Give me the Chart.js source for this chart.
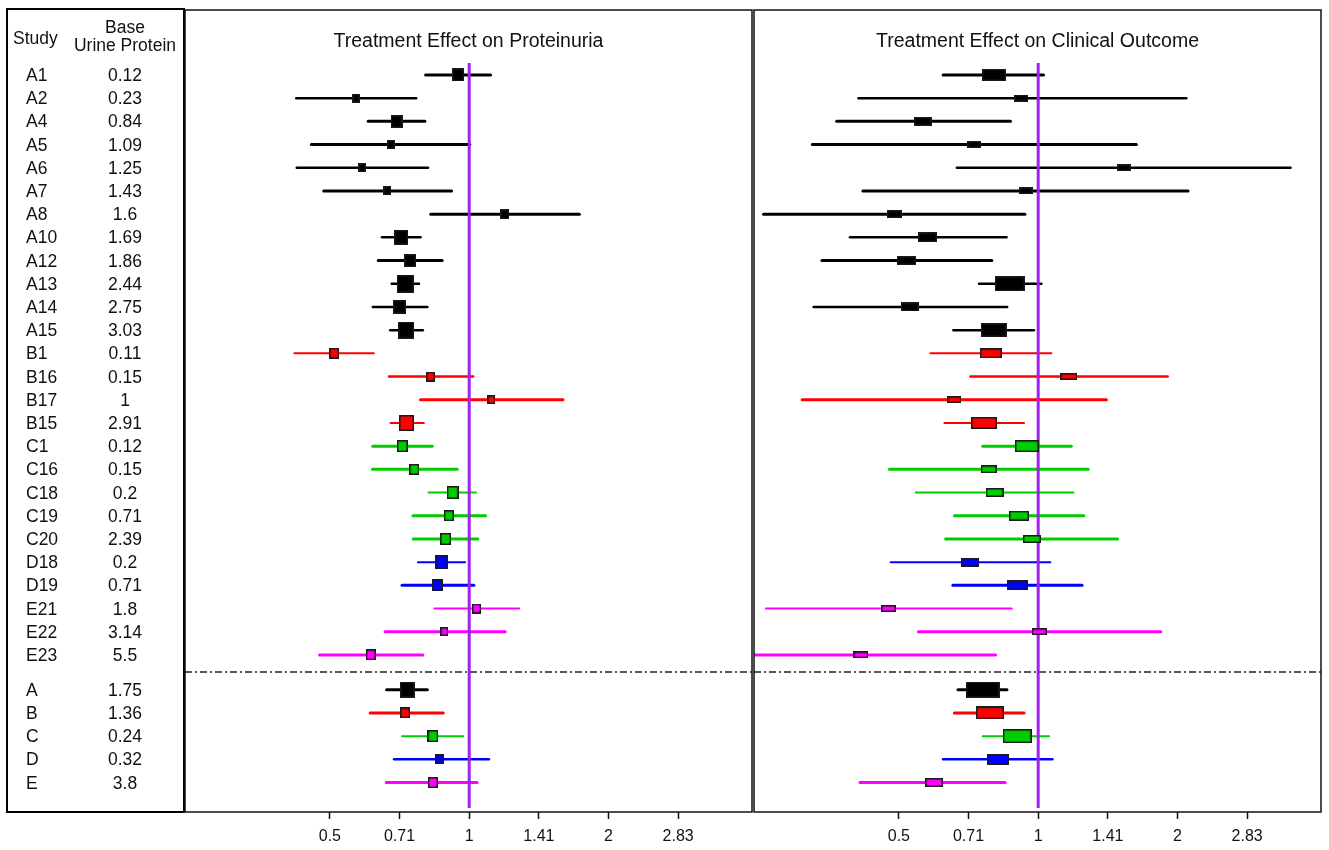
<!DOCTYPE html>
<html>
<head>
<meta charset="utf-8">
<script src="https://cdn.jsdelivr.net/npm/chart.js@4.4.1/dist/chart.umd.min.js"></script>
<style>
  body { margin: 0; background: #fff; font-family: Arial, "Liberation Sans", sans-serif; }
  #page { position: relative; width: 1329px; height: 850px; overflow: hidden; }
  .wrap { position: absolute; top: 5px; width: 577px; height: 845px; }
  #tbl { position: absolute; left: 6px; top: 8px; width: 179px; height: 805px; border: 2px solid #000; box-sizing: border-box; }
  .txt { position: absolute; font-size: 17.5px; color: #111; white-space: nowrap; line-height: 18px; transform: translateY(-50%); }
  .ttl { position: absolute; top: 29px; font-size: 19.5px; line-height: 22px; color: #111; text-align: center; width: 569px; }
</style>
</head>
<body>
<div id="page">
  <div id="tbl"></div>
  <div class="wrap" style="left:180px"><canvas id="protChart"></canvas></div>
  <div class="wrap" style="left:749px"><canvas id="clinChart"></canvas></div>
  <div class="ttl" style="left:184px">Treatment Effect on Proteinuria</div>
  <div class="ttl" style="left:753px">Treatment Effect on Clinical Outcome</div>
</div>
<script>
// Studies (rows) and baseline urine protein
const studies = ['A1', 'A2', 'A4', 'A5', 'A6', 'A7', 'A8', 'A10', 'A12', 'A13', 'A14', 'A15',
  'B1', 'B16', 'B17', 'B15', 'C1', 'C16', 'C18', 'C19', 'C20', 'D18', 'D19', 'E21', 'E22', 'E23',
  'A', 'B', 'C', 'D', 'E'];
const baseProtein = ['0.12', '0.23', '0.84', '1.09', '1.25', '1.43', '1.6', '1.69', '1.86', '2.44', '2.75', '3.03',
  '0.11', '0.15', '1', '2.91', '0.12', '0.15', '0.2', '0.71', '2.39', '0.2', '0.71', '1.8', '3.14', '5.5',
  '1.75', '1.36', '0.24', '0.32', '3.8'];

// Treatment effect on proteinuria (ratio, lower CI, estimate, upper CI)
const protLow = [0.805, 0.423, 0.605, 0.456, 0.424, 0.485, 0.826, 0.648, 0.636, 0.680, 0.619, 0.675,
  0.419, 0.671, 0.785, 0.676, 0.619, 0.618, 0.817, 0.756, 0.757, 0.775, 0.716, 0.841, 0.658, 0.475,
  0.663, 0.611, 0.716, 0.688, 0.662];
const protEst = [0.947, 0.570, 0.697, 0.677, 0.588, 0.665, 1.194, 0.713, 0.746, 0.727, 0.707, 0.730,
  0.511, 0.825, 1.117, 0.732, 0.717, 0.761, 0.921, 0.904, 0.889, 0.872, 0.853, 1.037, 0.884, 0.613,
  0.735, 0.727, 0.835, 0.863, 0.835];
const protHigh = [1.112, 0.768, 0.802, 1.003, 0.815, 0.916, 1.730, 0.785, 0.874, 0.779, 0.812, 0.794,
  0.622, 1.020, 1.595, 0.798, 0.832, 0.942, 1.034, 1.085, 1.044, 0.980, 1.023, 1.282, 1.196, 0.794,
  0.812, 0.879, 0.971, 1.103, 1.040];

// Treatment effect on clinical outcome
const clinLow = [0.623, 0.409, 0.367, 0.325, 0.667, 0.418, 0.255, 0.392, 0.341, 0.745, 0.327, 0.656,
  0.585, 0.714, 0.309, 0.627, 0.759, 0.477, 0.544, 0.659, 0.631, 0.480, 0.654, 0.258, 0.551, 0.230,
  0.671, 0.659, 0.759, 0.623, 0.412];
const clinEst = [0.802, 0.920, 0.563, 0.728, 1.532, 0.940, 0.489, 0.577, 0.520, 0.868, 0.528, 0.801,
  0.790, 1.165, 0.659, 0.764, 0.945, 0.782, 0.805, 0.909, 0.969, 0.714, 0.901, 0.475, 1.006, 0.414,
  0.758, 0.787, 0.901, 0.818, 0.596];
const clinHigh = [1.027, 2.090, 0.871, 1.630, 3.510, 2.108, 0.936, 0.854, 0.794, 1.016, 0.857, 0.979,
  1.068, 1.905, 1.404, 0.932, 1.179, 1.282, 1.192, 1.255, 1.484, 1.062, 1.244, 0.877, 1.839, 0.809,
  0.856, 0.932, 1.056, 1.073, 0.848];

// axis ticks (log2 scale)
const tickLog2 = [-1, -0.5, 0, 0.5, 1, 1.5];
const tickLabels = ['0.5', '0.71', '1', '1.41', '2', '2.83'];

// styles
const groupColors = { A: '#000000', B: '#ff0000', C: '#00cd00', D: '#0000ff', E: '#ff00ff' };
const lineW = [3, 2.5, 3, 3, 2.5, 3, 3, 2.5, 3, 2.5, 2.5, 2.5, 2, 2.5, 3, 2, 3, 3, 2, 3, 3, 2, 3, 2, 3, 3,
  3, 3, 2, 2.5, 3];
const boxProt = [12, 8, 12, 8, 8, 8, 9, 14, 12, 17, 13, 16, 10, 9, 8, 15, 11, 10, 12, 10, 11, 13, 11, 9, 8, 10,
  15, 10, 11, 9, 10];
const boxClin = [[24, 12], [14, 7], [18, 9], [14, 7], [14, 7], [14, 7], [15, 8], [19, 10], [19, 9], [30, 15],
  [18, 9], [26, 14], [22, 10], [17, 7], [14, 7], [26, 12], [24, 12], [16, 8], [18, 9], [20, 10], [18, 8],
  [18, 9], [21, 10], [15, 7], [15, 7], [15, 7], [34, 16], [28, 13], [29, 14], [22, 11], [18, 9]];

const FONT = 'Arial, "Liberation Sans", sans-serif';
const rowY = i => (i < 26 ? i + 1 : i + 1.5); // summary rows after a gap
const colorOf = i => groupColors[studies[i][0]];

function boxImg(w, h, fill) {
  const c = document.createElement('canvas');
  c.width = w; c.height = h;
  const g = c.getContext('2d');
  g.fillStyle = fill;
  g.fillRect(0, 0, w, h);
  g.strokeStyle = '#1a1a1a';
  g.lineWidth = 1.5;
  g.strokeRect(0.75, 0.75, w - 1.5, h - 1.5);
  return c;
}

// Rahmen um die Zeichenfläche
const framePlugin = {
  id: 'frame',
  afterDraw(chart) {
    const a = chart.chartArea, ctx = chart.ctx;
    ctx.save();
    ctx.strokeStyle = '#111';
    ctx.lineWidth = 1.5;
    ctx.strokeRect(a.left, a.top, a.right - a.left, a.bottom - a.top);
    ctx.restore();
  }
};

function makePanel(id, low, est, high, imgs) {
  const datasets = [];
  // boxes (on top)
  datasets.push({
    order: 0,
    data: est.map((v, i) => ({ x: Math.log2(v), y: rowY(i) })),
    pointStyle: imgs,
    pointRadius: 4,
    showLine: false
  });
  // reference line at 1
  datasets.push({
    order: 1,
    data: [{ x: 0, y: 0.48 }, { x: 0, y: 32.6 }],
    showLine: true, borderColor: '#a020f0', borderWidth: 3, pointRadius: 0, clip: 0
  });
  // confidence intervals
  studies.forEach((s, i) => {
    datasets.push({
      order: 2,
      data: [{ x: Math.log2(low[i]), y: rowY(i) }, { x: Math.log2(high[i]), y: rowY(i) }],
      showLine: true, borderColor: colorOf(i), borderWidth: lineW[i], borderCapStyle: 'round',
      pointRadius: 0, clip: 0
    });
  });
  // separator between studies and summaries
  datasets.push({
    order: 3,
    data: [{ x: -2.04, y: 26.74 }, { x: 2.03, y: 26.74 }],
    showLine: true, borderColor: '#222', borderWidth: 1.5, borderDash: [7, 3, 2, 3],
    pointRadius: 0, clip: 0
  });

  return new Chart(document.getElementById(id), {
    type: 'scatter',
    data: { datasets },
    plugins: [framePlugin],
    options: {
      responsive: true,
      maintainAspectRatio: false,
      animation: false,
      layout: { padding: { left: 4, right: 4, top: 4, bottom: 0 } },
      plugins: { legend: { display: false }, tooltip: { enabled: false } },
      scales: {
        x: {
          type: 'linear', min: -2.04, max: 2.03,
          afterBuildTicks: s => { s.ticks = tickLog2.map(v => ({ value: v })); },
          afterFit: s => { s.height = 38; },
          ticks: {
            callback: (v, i) => tickLabels[i],
            font: { size: 16, family: FONT }, color: '#111', padding: 8,
            maxRotation: 0, autoSkip: false
          },
          grid: { drawOnChartArea: false, drawTicks: true, tickLength: 7, tickColor: '#111', tickWidth: 1.5 },
          border: { display: false }
        },
        y: { type: 'linear', min: -1.8, max: 32.77, reverse: true, display: false }
      }
    }
  });
}

const protChart = makePanel('protChart', protLow, protEst, protHigh,
  boxProt.map((s, i) => boxImg(s, s + 1, colorOf(i))));
makePanel('clinChart', clinLow, clinEst, clinHigh,
  boxClin.map((d, i) => boxImg(d[0], d[1], colorOf(i))));

// Tabelle links
const page = document.getElementById('page');
function addText(txt, x, y, center) {
  const d = document.createElement('div');
  d.className = 'txt';
  d.textContent = txt;
  d.style.top = y + 'px';
  if (center) { d.style.left = (x - 70) + 'px'; d.style.width = '140px'; d.style.textAlign = 'center'; }
  else d.style.left = x + 'px';
  page.appendChild(d);
}
addText('Study', 13, 38, false);
addText('Base', 125, 27, true);
addText('Urine Protein', 125, 45, true);
studies.forEach((s, i) => {
  const y = protChart.scales.y.getPixelForValue(rowY(i)) + 5;
  addText(s, 26, y, false);
  addText(baseProtein[i], 125, y, true);
});
</script>
</body>
</html>
